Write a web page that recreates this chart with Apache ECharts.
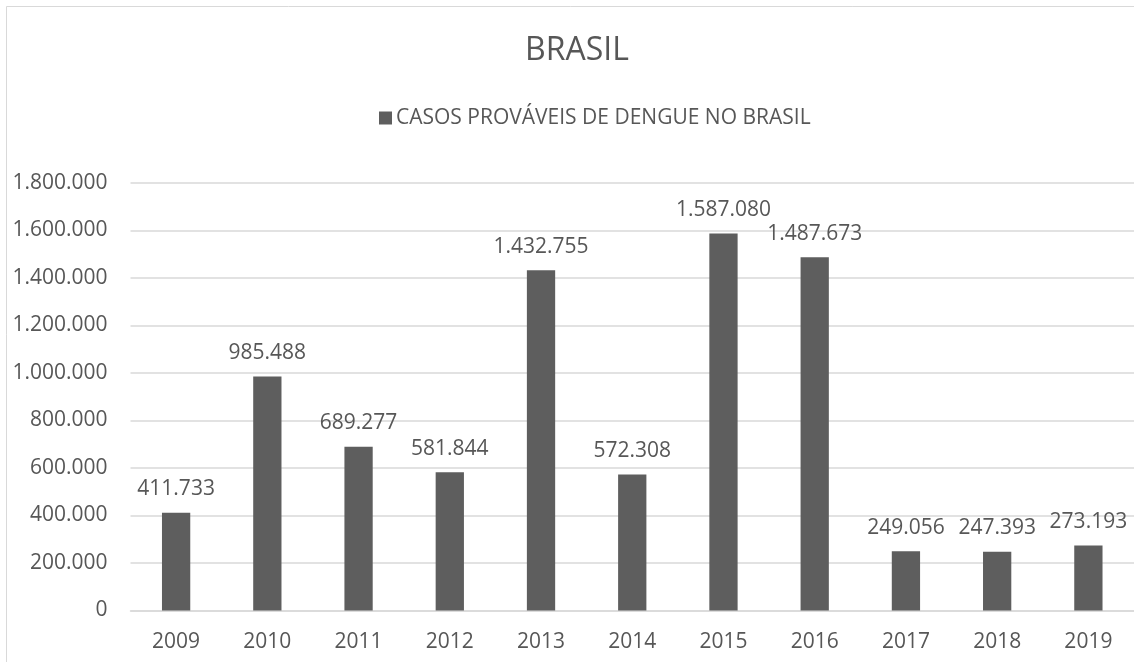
<!DOCTYPE html>
<html>
<head>
<meta charset="utf-8">
<script src="https://cdn.jsdelivr.net/npm/echarts@6/dist/echarts.min.js"></script>
<style>
  html, body { margin: 0; padding: 0; background: #fff; }
  #chart { width: 1134px; height: 662px; }
</style>
</head>
<body>
<div id="chart"></div>
<script>
// Casos prováveis de dengue no Brasil, por ano
const years = ['2009', '2010', '2011', '2012', '2013', '2014', '2015', '2016', '2017', '2018', '2019'];
const casos = [411733, 985488, 689277, 581844, 1432755, 572308, 1587080, 1487673, 249056, 247393, 273193];
const seriesName = 'CASOS PROVÁVEIS DE DENGUE NO BRASIL';
const chartTitle = 'BRASIL';

const FONT = 'Open Sans';
const TEXT = '#575757';
const GRID = '#d9d9d9';
const BAR = '#5e5e5e';

// Thousands separated by dots (pt-BR)
function fmt(v) {
  return String(Math.round(v)).replace(/\B(?=(\d{3})+(?!\d))/g, '.');
}

const chart = echarts.init(document.getElementById('chart'), null, { renderer: 'canvas' });
chart.setOption({
  animation: false,
  backgroundColor: '#fff',
  textStyle: { fontFamily: FONT },
  graphic: [{
    type: 'rect',
    shape: { x: 6.5, y: 6.5, width: 1400, height: 1000 },
    style: { fill: 'none', stroke: GRID, lineWidth: 1 },
    silent: true,
    z: -10
  }],
  title: {
    text: chartTitle,
    left: 572,
    textAlign: 'center',
    top: 30,
    textStyle: { fontFamily: FONT, fontSize: 32, fontWeight: 'normal', color: TEXT }
  },
  legend: {
    data: [seriesName],
    left: 374,
    top: 102.5,
    icon: 'rect',
    itemWidth: 13,
    itemHeight: 13,
    itemGap: 6,
    textStyle: { fontFamily: FONT, fontSize: 21, color: TEXT, padding: [0, 0, 0, -1] }
  },
  grid: { left: 130.5, right: -8.5, top: 183, bottom: 51.5, containLabel: false },
  xAxis: {
    type: 'category',
    data: years,
    axisLine: { lineStyle: { color: GRID, width: 1.5 } },
    axisTick: { show: false },
    axisLabel: { color: TEXT, fontFamily: FONT, fontSize: 21, margin: 21 }
  },
  yAxis: {
    type: 'value',
    min: 0,
    max: 1800000,
    interval: 200000,
    axisLine: { show: false },
    axisTick: { show: false },
    splitLine: { lineStyle: { color: GRID, width: 1.5 } },
    axisLabel: { color: TEXT, fontFamily: FONT, fontSize: 21, margin: 23, formatter: fmt }
  },
  series: [{
    name: seriesName,
    type: 'bar',
    data: casos,
    barWidth: '31%',
    itemStyle: { color: BAR },
    label: {
      show: true,
      position: 'top',
      distance: 13,
      color: TEXT,
      fontFamily: FONT,
      fontSize: 21,
      formatter: p => fmt(p.value)
    }
  }]
});
</script>
</body>
</html>
